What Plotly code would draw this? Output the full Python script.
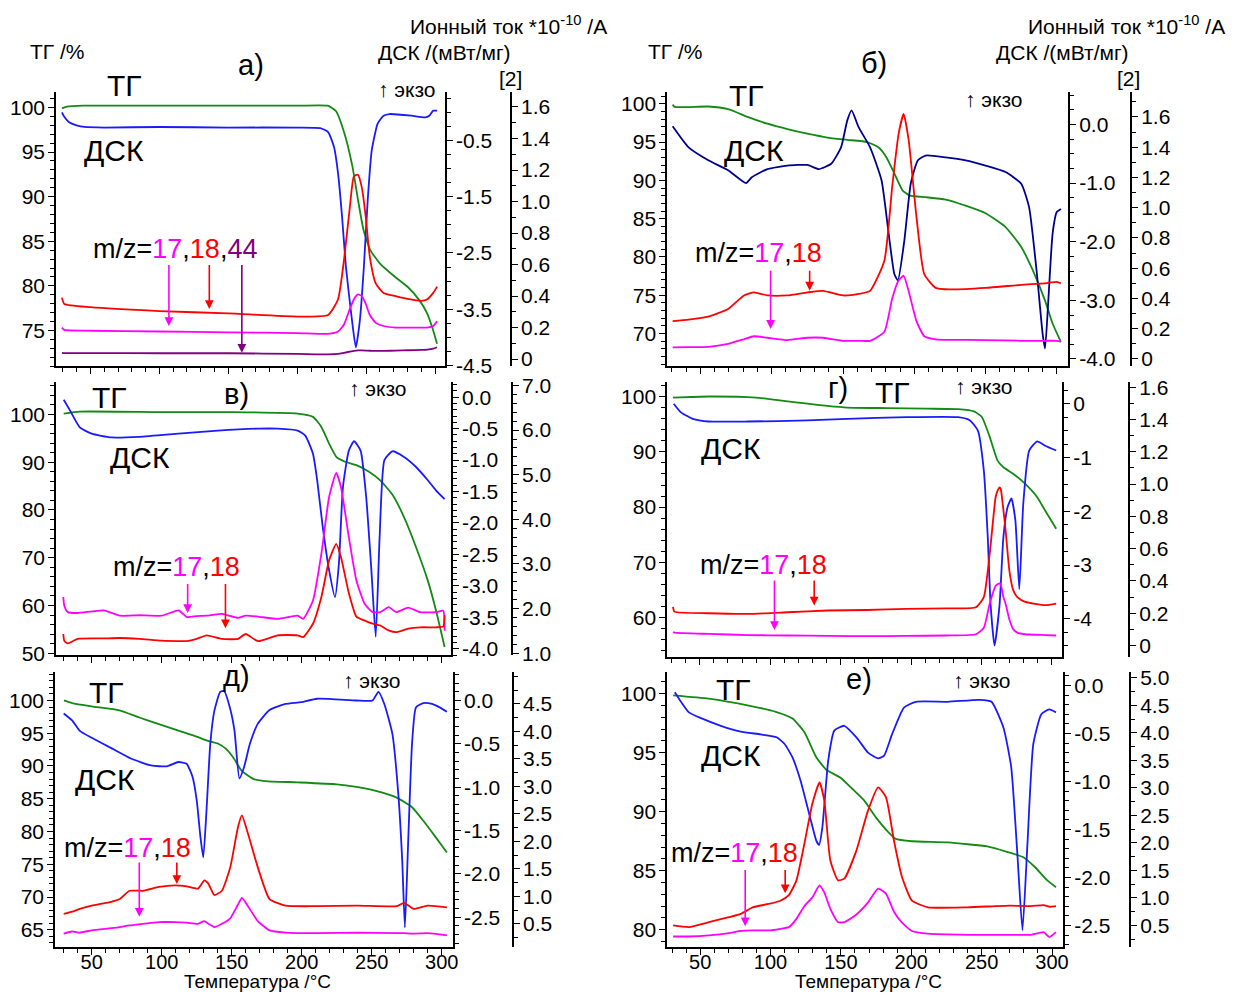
import plotly.graph_objects as go

W, H = 1233, 999
FONT = "Liberation Sans, Arial, sans-serif"
GREEN = "#138a13"
BLUE = "#1a1aff"
NAVY = "#000090"
RED = "#ff0000"
MAG = "#ff00ff"
PURP = "#800080"

# ---------------- panel а) ----------------
a_T_tg = [29.3, 33, 45, 100, 150, 200, 222, 228, 234, 240, 244, 248, 253, 260, 271, 280, 288.5, 294.3, 298, 301.4]
a_tg = [99.9, 100.1, 100.2, 100.2, 100.2, 100.2, 100.2, 99.6, 97.2, 93.4, 89.7, 86.3, 84.0, 82.5, 81.0, 79.9, 78.4, 76.9, 75.3, 73.5]
a_T_dsc = [29.3, 31, 34.2, 39.9, 45.7, 60, 100, 150, 200, 216.7, 222.4, 226.7, 229.6, 232.5, 235.3, 239.7, 242.5,
           245.4, 248.3, 251.1, 254, 258.3, 262.6, 267, 282.8, 292.8, 295.7, 298.6, 301.4]
a_dsc = [0.0, -0.08, -0.17, -0.23, -0.26, -0.27, -0.26, -0.27, -0.27, -0.28, -0.35, -0.62, -1.09, -1.86, -2.75, -3.7,
         -4.18, -3.7, -2.75, -1.56, -0.68, -0.2, -0.06, -0.03, -0.06, -0.09, -0.06, 0.03, 0.03]
a_T_ion = [29.3, 31, 50, 100, 150, 200, 222.4, 229.6, 233.9, 238.2, 241.1, 244, 246.8, 249.7, 252.6, 256.9, 262.6,
           271.3, 281.3, 290, 294.3, 298.6, 301.4]
a_18 = [0.39, 0.35, 0.33, 0.305, 0.29, 0.27, 0.28, 0.38, 0.63, 0.97, 1.16, 1.17, 1.09, 0.90, 0.65, 0.48, 0.42, 0.40,
        0.38, 0.37, 0.38, 0.42, 0.46]
a_17 = [0.20, 0.185, 0.18, 0.175, 0.17, 0.165, 0.16, 0.175, 0.22, 0.32, 0.38, 0.41, 0.40, 0.35, 0.28, 0.23, 0.21, 0.20,
        0.20, 0.20, 0.20, 0.21, 0.24]
a_44 = [0.04, 0.038, 0.038, 0.037, 0.037, 0.033, 0.03, 0.033, 0.04, 0.047, 0.052, 0.055, 0.055, 0.054, 0.053, 0.052,
        0.052, 0.054, 0.056, 0.058, 0.06, 0.066, 0.075]
a_arrow_T = [106.9, 136.2, 159.8]
a_arrow_tip = [75.5, 77.4, 72.5]
a_arrow_top = 82.5

# ---------------- panel б) ----------------
b_T_tg = [30.5, 32, 55.5, 69.4, 83, 97, 111, 125, 139, 153, 167, 175, 180.5, 186, 191.7, 197, 208, 222, 236, 250, 264,
          275, 283, 291.7, 297, 302.8]
b_tg = [99.9, 99.6, 99.65, 99.3, 98.3, 97.4, 96.7, 96.1, 95.6, 95.3, 95.0, 94.3, 93.0, 90.9, 88.7, 88.0, 87.8, 87.5,
        86.7, 85.7, 83.9, 81.3, 78.3, 74.3, 71.3, 68.9]
b_T_dsc = [30.5, 41.7, 55.5, 69.4, 82, 86, 97, 111, 125, 133, 141.7, 148.6, 153, 156, 161, 169, 177, 182, 186, 188.5,
           193, 197.5, 202.5, 208, 222, 236, 250, 264, 275, 280.5, 286, 290, 291.7, 294, 297, 300, 302.8]
b_dsc = [-0.03, -0.39, -0.61, -0.78, -1.0, -0.9, -0.76, -0.70, -0.69, -0.76, -0.67, -0.39, 0.07, 0.24, -0.05, -0.39,
         -0.95, -1.86, -2.55, -2.66, -1.98, -1.01, -0.61, -0.53, -0.56, -0.61, -0.70, -0.81, -1.01, -1.41, -2.55, -3.57,
         -3.82, -3.0, -1.86, -1.49, -1.44]
b_T_ion = [30.5, 41.7, 55.5, 69.4, 80.5, 87.5, 97, 111, 125, 136, 150, 161, 169, 179, 184.5, 189, 192.5, 196, 201.5,
           207, 215, 225, 250, 275, 291.7, 300, 302.8]
b_18 = [0.25, 0.26, 0.28, 0.33, 0.42, 0.44, 0.42, 0.42, 0.44, 0.45, 0.42, 0.43, 0.45, 0.65, 1.14, 1.49, 1.62, 1.45,
        0.94, 0.56, 0.47, 0.46, 0.47, 0.49, 0.50, 0.51, 0.50]
b_17 = [0.077, 0.078, 0.08, 0.10, 0.13, 0.15, 0.14, 0.125, 0.14, 0.14, 0.12, 0.12, 0.12, 0.18, 0.40, 0.52, 0.55, 0.45,
        0.25, 0.15, 0.13, 0.126, 0.125, 0.12, 0.12, 0.12, 0.115]
b_arrow_T = [99.2, 126.6]
b_arrow_tip = [70.6, 75.6]
b_arrow_top = 78.4

# ---------------- panel в) ----------------
c_T_tg = [30, 41.5, 100, 150, 197, 208, 214, 219.5, 225, 231, 239, 248, 256, 265, 273, 281.6, 290, 295.8, 302]
c_tg = [100.2, 100.6, 100.5, 100.5, 100.2, 99.5, 97.4, 93.9, 91.0, 90.1, 89.4, 88.0, 86.2, 83.1, 78.5, 72.2, 65.2,
        59.0, 51.3]
c_T_dsc = [30, 34.5, 41.5, 50, 64, 84, 112, 140, 168.6, 182.8, 197, 202.5, 208, 211, 215, 219.5, 223.7, 226.5, 229.4,
           233.6, 237.3, 242, 246, 249.7, 252.8, 255.6, 259, 264.7, 273, 281.6, 290, 295.8, 302]
c_dsc = [-0.04, -0.21, -0.48, -0.58, -0.64, -0.63, -0.58, -0.53, -0.50, -0.50, -0.53, -0.61, -0.9, -1.32, -2.07,
         -2.75, -3.18, -2.65, -1.43, -0.85, -0.70, -0.85, -1.59, -2.75, -3.81, -2.22, -1.0, -0.86, -0.95, -1.11, -1.32,
         -1.48, -1.62]
c_T_ion = [29.7, 30.5, 32.9, 40, 58.5, 70, 84, 100, 112, 117.8, 125, 132, 143, 154.5, 160, 168.6, 182.8, 197, 201,
           208, 214, 219.5, 224.6, 228, 233.6, 239, 245, 250.6, 256, 262, 267.5, 276, 284.5, 295.8, 301, 302]
c_17 = [2.26, 2.05, 1.92, 1.90, 1.96, 1.84, 1.85, 1.84, 1.96, 1.81, 1.83, 1.84, 1.88, 1.79, 1.84, 1.82, 1.77, 1.84,
        1.77, 2.18, 3.23, 4.5, 5.04, 4.72, 3.6, 2.63, 2.1, 1.92, 1.92, 2.03, 1.92, 2.02, 1.92, 1.92, 1.95, 1.5]
c_18 = [1.43, 1.27, 1.22, 1.32, 1.33, 1.34, 1.32, 1.28, 1.27, 1.27, 1.32, 1.40, 1.32, 1.32, 1.43, 1.27, 1.40, 1.40,
        1.36, 1.66, 2.26, 3.08, 3.45, 3.15, 2.35, 1.82, 1.73, 1.66, 1.62, 1.51, 1.47, 1.55, 1.58, 1.58, 1.60, 1.85]
c_arrow_T = [118.5, 145.5]
c_arrow_tip = [58.4, 55.2]
c_arrow_top = 64.8

# ---------------- panel г) ----------------
d_T_tg = [31, 56.3, 90, 106.8, 126.5, 140.6, 154.6, 182.8, 210.9, 233.4, 244.6, 250.2, 255.8, 261.4, 265.5, 272.6, 281,
          289.5, 295.1, 303]
d_tg = [99.8, 100.0, 99.8, 99.3, 98.7, 98.3, 98.0, 97.9, 97.8, 97.7, 97.3, 96.3, 92.7, 88.4, 87.2, 86.0, 84.2, 81.8,
        79.4, 76.1]
d_T_dsc = [31.5, 36.6, 45, 56.3, 84.4, 126.5, 154.6, 196.8, 233.4, 241.8, 247.4, 251.6, 254.4, 256.4, 259.2, 262.8,
           265.5, 268.4, 271.2, 274, 276.8, 279.6, 283.8, 289.5, 295.1, 303]
d_dsc = [0.0, -0.16, -0.28, -0.33, -0.33, -0.31, -0.28, -0.25, -0.25, -0.31, -0.5, -1.24, -2.48, -3.73, -4.5, -3.73,
         -2.48, -1.93, -1.76, -2.17, -3.45, -1.86, -0.87, -0.70, -0.78, -0.87]
d_T_ion = [31, 32, 56.3, 84.4, 112.5, 140.6, 168.7, 196.8, 225, 246, 251.6, 255.8, 260, 261.4, 262.8, 263.6, 265.5,
           267, 269.8, 272.6, 275.4, 281, 295.1, 303]
d_18 = [0.24, 0.21, 0.20, 0.196, 0.206, 0.217, 0.22, 0.227, 0.23, 0.237, 0.30, 0.57, 0.92, 0.96, 0.98, 0.97, 0.84,
        0.72, 0.46, 0.34, 0.30, 0.27, 0.25, 0.26]
d_17 = [0.083, 0.08, 0.072, 0.065, 0.062, 0.06, 0.058, 0.06, 0.062, 0.07, 0.11, 0.26, 0.37, 0.38, 0.385, 0.38, 0.30,
        0.26, 0.16, 0.10, 0.08, 0.07, 0.065, 0.062]
d_arrow_T = [103.0, 131.2]
d_arrow_tip = [57.8, 62.2]
d_arrow_top = 67.0

# ---------------- panel д) ----------------
e_T_tg = [30.2, 36, 50, 69.8, 84, 98, 112, 126, 132, 140.4, 146, 151.7, 157, 165.8, 174, 197, 225, 239, 253, 267.5,
          278.8, 287, 295.8, 303.7]
e_tg = [100, 99.6, 99.1, 98.5, 97.4, 96.4, 95.4, 94.4, 93.9, 93.4, 92.6, 91.1, 89.3, 88.0, 87.7, 87.5, 87.2, 86.8, 86.2,
        85.2, 83.7, 81.6, 79.1, 76.8]
e_T_dsc = [30, 36, 41.5, 50, 64, 78, 92.4, 103.7, 112, 117.8, 122, 125, 127.7, 129.7, 132, 134.7, 137.6, 141.8, 144.6,
           149, 152, 155.5, 158.8, 163, 168.6, 177, 188.4, 199.7, 211, 239, 250.6, 254.8, 259, 264.7, 269, 271.8, 273.7,
           276, 278.8, 281.6, 287, 293, 298.6, 303.7]
e_dsc = [-0.15, -0.23, -0.35, -0.43, -0.55, -0.67, -0.75, -0.76, -0.71, -0.73, -0.88, -1.15, -1.58, -1.81, -1.27,
         -0.5, -0.12, 0.1, 0.11, -0.10, -0.35, -0.9, -0.77, -0.5, -0.27, -0.11, -0.04, -0.02, 0.02, 0.0, 0.0, 0.1,
         -0.04, -0.38, -1.08, -1.85, -2.62, -1.65, -0.5, -0.08, -0.03, -0.04, -0.08, -0.13]
e_T_ion = [30, 36, 41.5, 50, 64, 70, 77, 86.7, 98, 109.3, 117.8, 126, 130.5, 133.3, 137.6, 143, 149, 154.5, 157.3,
           161.6, 168.6, 177, 188.4, 211, 240, 268, 273, 280, 290, 303.7]
e_18 = [0.68, 0.72, 0.77, 0.83, 0.90, 0.95, 1.10, 1.10, 1.17, 1.20, 1.18, 1.14, 1.29, 1.23, 1.02, 1.10, 1.53, 2.26,
        2.47, 2.14, 1.53, 0.95, 0.83, 0.82, 0.83, 0.82, 0.88, 0.77, 0.83, 0.80]
e_17 = [0.32, 0.36, 0.34, 0.38, 0.42, 0.44, 0.47, 0.50, 0.53, 0.53, 0.52, 0.50, 0.55, 0.50, 0.44, 0.50, 0.60, 0.85,
        0.97, 0.82, 0.55, 0.38, 0.34, 0.33, 0.34, 0.33, 0.33, 0.32, 0.33, 0.29]
e_arrow_T = [84.0, 110.8]
e_arrow_tip = [67.0, 72.0]
e_arrow_top = 75.5

# ---------------- panel е) ----------------
f_T_tg = [30.8, 56, 84.5, 104.3, 115.6, 124, 132.6, 139.6, 149.5, 158, 166.5, 175, 183.5, 189, 200.5, 226, 254, 268,
          279.6, 288, 296.5, 302.8]
f_tg = [99.86, 99.58, 99.0, 98.45, 97.9, 96.75, 94.6, 93.56, 92.9, 91.95, 90.96, 89.5, 88.3, 87.7, 87.5, 87.4, 87.06,
        86.6, 86.15, 85.3, 84.2, 83.6]
f_T_dsc = [32, 36.4, 42, 50.6, 64.7, 78.8, 93, 104.3, 110, 115.6, 121.3, 127, 132.6, 134.5, 136.8, 141, 145.3, 152.4,
           161, 169.3, 176.4, 180.7, 186.3, 194.8, 203.3, 226, 248.5, 257, 265.5, 271, 275.4, 279, 282.5, 286.7, 292.4,
           298, 302.8]
f_dsc = [-0.07, -0.17, -0.28, -0.34, -0.42, -0.48, -0.51, -0.54, -0.61, -0.75, -0.99, -1.31, -1.62, -1.66, -1.48,
         -0.78, -0.47, -0.42, -0.54, -0.70, -0.76, -0.73, -0.51, -0.23, -0.17, -0.17, -0.15, -0.17, -0.44, -0.85, -1.76,
         -2.55, -1.66, -0.61, -0.30, -0.25, -0.28]
f_T_ion = [30.8, 42, 56.2, 70.4, 78.8, 87.3, 98.6, 107, 113, 118.4, 124, 129.7, 134.8, 138.2, 142.5, 148, 152.4, 161,
           169.3, 176.4, 182, 187.7, 193.4, 200.5, 211.8, 240, 270, 285, 294, 298, 302.8]
f_18 = [0.50, 0.47, 0.56, 0.65, 0.71, 0.83, 0.89, 0.95, 1.05, 1.32, 1.98, 2.71, 3.10, 2.77, 1.68, 1.32, 1.35, 1.86,
        2.59, 3.01, 2.83, 2.04, 1.38, 0.95, 0.83, 0.83, 0.86, 0.85, 0.87, 0.84, 0.85]
f_17 = [0.30, 0.30, 0.32, 0.36, 0.40, 0.41, 0.41, 0.44, 0.47, 0.62, 0.85, 1.01, 1.23, 1.10, 0.80, 0.56, 0.56, 0.70,
        0.92, 1.17, 1.08, 0.75, 0.55, 0.40, 0.35, 0.33, 0.33, 0.33, 0.38, 0.29, 0.38]
f_arrow_T = [82.0, 110.4]
f_arrow_tip = [80.3, 83.1]
f_arrow_top = 85.2

# ---------------- tick label lists ----------------
a_tg_ticks = [75, 80, 85, 90, 95, 100]
a_dsc_ticks = [-4.5, -3.5, -2.5, -1.5, -0.5]
a_ion_ticks = [0, 0.2, 0.4, 0.6, 0.8, 1.0, 1.2, 1.4, 1.6]
b_tg_ticks = [70, 75, 80, 85, 90, 95, 100]
b_dsc_ticks = [-4.0, -3.0, -2.0, -1.0, 0.0]
b_ion_ticks = [0, 0.2, 0.4, 0.6, 0.8, 1.0, 1.2, 1.4, 1.6]
c_tg_ticks = [50, 60, 70, 80, 90, 100]
c_dsc_ticks = [-4.0, -3.5, -3.0, -2.5, -2.0, -1.5, -1.0, -0.5, 0.0]
c_ion_ticks = [1.0, 2.0, 3.0, 4.0, 5.0, 6.0, 7.0]
d_tg_ticks = [60, 70, 80, 90, 100]
d_dsc_ticks = [-4, -3, -2, -1, 0]
d_ion_ticks = [0, 0.2, 0.4, 0.6, 0.8, 1.0, 1.2, 1.4, 1.6]
e_tg_ticks = [65, 70, 75, 80, 85, 90, 95, 100]
e_dsc_ticks = [-2.5, -2.0, -1.5, -1.0, -0.5, 0.0]
e_ion_ticks = [0.5, 1.0, 1.5, 2.0, 2.5, 3.0, 3.5, 4.0, 4.5]
f_tg_ticks = [80, 85, 90, 95, 100]
f_dsc_ticks = [-2.5, -2.0, -1.5, -1.0, -0.5, 0.0]
f_ion_ticks = [0.5, 1.0, 1.5, 2.0, 2.5, 3.0, 3.5, 4.0, 4.5, 5.0]
x_ticks = [50, 100, 150, 200, 250, 300]


def f1(v):
    return f"{v:.1f}"


def fion(v):
    return "0" if v == 0 else f"{v:.1f}"


def fint(v):
    return f"{int(v)}"


MZ2 = f"m/z=<span style='color:{MAG}'>17</span>,<span style='color:{RED}'>18</span>"
MZ3 = MZ2 + f",<span style='color:{PURP}'>44</span>"

panels = [
    dict(box=(56, 92, 445, 366), xr=(25.0, 307.2), ionx=511, bottom=False,
         tg=(a_T_tg, a_tg), dsc=(a_T_dsc, a_dsc), dcol=BLUE, ionT=a_T_ion,
         ions=[(a_44, PURP), (a_17, MAG), (a_18, RED)],
         tgr=(70.96, 101.68), dr=(-4.518, 0.353), ir=(-0.047, 1.692),
         tgt=(a_tg_ticks, str, 1), dt=(a_dsc_ticks, f1, 0.25, -0.5), it=(a_ion_ticks, fion, 0.1, 0),
         arrows=(a_arrow_T, a_arrow_tip, a_arrow_top, [MAG, RED, PURP]),
         label=("а)", 251, 65), TG=(124, 85), DSK=(114, 150), ekzo=(407, 89), mz=(MZ3, 175, 249)),
    dict(box=(667, 92, 1068, 366), xr=(26.6, 307.9), ionx=1131, bottom=False,
         tg=(b_T_tg, b_tg), dsc=(b_T_dsc, b_dsc), dcol=NAVY, ionT=b_T_ion,
         ions=[(b_17, MAG), (b_18, RED)],
         tgr=(65.69, 101.48), dr=(-4.128, 0.546), ir=(-0.05, 1.762),
         tgt=(b_tg_ticks, str, 1), dt=(b_dsc_ticks, f1, 0.25, 0), it=(b_ion_ticks, fion, 0.1, 0),
         arrows=(b_arrow_T, b_arrow_tip, b_arrow_top, [MAG, RED]),
         label=("б)", 874, 63), TG=(746, 95), DSK=(754, 150), ekzo=(994, 99), mz=(MZ2, 758, 253)),
    dict(box=(56, 382, 451, 655), xr=(24.5, 306.6), ionx=512, bottom=False,
         tg=(c_T_tg, c_tg), dsc=(c_T_dsc, c_dsc), dcol=BLUE, ionT=c_T_ion,
         ions=[(c_17, MAG), (c_18, RED)],
         tgr=(49.52, 106.7), dr=(-4.107, 0.234), ir=(0.948, 7.067),
         tgt=(c_tg_ticks, str, 2), dt=(c_dsc_ticks, f1, 0.1, 0), it=(c_ion_ticks, f1, 0.2, 1),
         arrows=(c_arrow_T, c_arrow_tip, c_arrow_top, [MAG, RED]),
         label=("в)", 236, 394), TG=(109, 397), DSK=(140, 457), ekzo=(378, 388), mz=(MZ2, 176, 567)),
    dict(box=(667, 382, 1062, 657), xr=(26.8, 307.2), ionx=1129, bottom=False,
         tg=(d_T_tg, d_tg), dsc=(d_T_dsc, d_dsc), dcol=BLUE, ionT=d_T_ion,
         ions=[(d_17, MAG), (d_18, RED)],
         tgr=(52.82, 102.53), dr=(-4.72, 0.396), ir=(-0.074, 1.629),
         tgt=(d_tg_ticks, str, 2), dt=(d_dsc_ticks, fint, 0.25, 0), it=(d_ion_ticks, fion, 0.1, 0),
         arrows=(d_arrow_T, d_arrow_tip, d_arrow_top, [MAG, RED]),
         label=("г)", 838, 388), TG=(892, 392), DSK=(731, 448), ekzo=(984, 386), mz=(MZ2, 763, 565)),
    dict(box=(55, 672, 453, 947), xr=(23.8, 308.1), ionx=513, bottom=True,
         tg=(e_T_tg, e_tg), dsc=(e_T_dsc, e_dsc), dcol=BLUE, ionT=e_T_ion,
         ions=[(e_17, MAG), (e_18, RED)],
         tgr=(62.3, 104.27), dr=(-2.85, 0.323), ir=(0.069, 5.069),
         tgt=(e_tg_ticks, str, 1), dt=(e_dsc_ticks, f1, 0.1, 0), it=(e_ion_ticks, f1, 0.25, 0.5),
         arrows=(e_arrow_T, e_arrow_tip, e_arrow_top, [MAG, RED]),
         label=("д)", 236, 676), TG=(106, 692), DSK=(105, 779), ekzo=(372, 680), mz=(MZ2, 127, 848)),
    dict(box=(667, 672, 1063, 947), xr=(26.5, 307.9), ionx=1130, bottom=True,
         tg=(f_T_tg, f_tg), dsc=(f_T_dsc, f_dsc), dcol=BLUE, ionT=f_T_ion,
         ions=[(f_17, MAG), (f_18, RED)],
         tgr=(78.5, 101.8), dr=(-2.729, 0.135), ir=(0.1, 5.096),
         tgt=(f_tg_ticks, str, 1), dt=(f_dsc_ticks, f1, 0.1, 0), it=(f_ion_ticks, f1, 0.25, 0.5),
         arrows=(f_arrow_T, f_arrow_tip, f_arrow_top, [MAG, RED]),
         label=("е)", 859, 679), TG=(733, 689), DSK=(731, 755), ekzo=(982, 680), mz=(MZ2, 734, 853)),
]

# the page is photographed with a slight offset/scale; map target pixel positions to paper coordinates
SX, SY, OY = 0.995, 0.981, 8.5


def PX(x):
    return (x / SX) / W


def PY(y):
    return 1 - ((y - OY) / SY) / H


fig = go.Figure()
layout = dict(width=W, height=H, margin=dict(l=0, r=0, t=0, b=0), autosize=False,
              paper_bgcolor="white", plot_bgcolor="rgba(0,0,0,0)", showlegend=False,
              font=dict(family=FONT, size=21, color="black"))
annotations = []
AX = dict(showline=True, linecolor="black", linewidth=1.6, ticks="outside", ticklen=6, tickwidth=1.4,
          tickcolor="black", showgrid=False, zeroline=False, tickfont=dict(family=FONT, size=21, color="black"))
MINOR = dict(ticks="outside", ticklen=4, tickwidth=1.2, tickcolor="black", tickmode="linear")

LW = 1.8
for i, p in enumerate(panels):
    n = i + 1
    xs = "" if n == 1 else str(n)
    yt, yd, yi = 3 * i + 1, 3 * i + 2, 3 * i + 3
    yts = "" if yt == 1 else str(yt)
    xname, ytn, ydn, yin = "x" + xs, "y" + yts, "y" + str(yd), "y" + str(yi)
    x0, y0, x1, y1 = p["box"]
    layout["xaxis" + xs] = dict(AX, domain=[PX(x0), PX(x1)], range=list(p["xr"]), anchor=ytn,
                                tickmode="array", tickvals=x_ticks, ticktext=[str(v) for v in x_ticks],
                                showticklabels=p["bottom"], ticklabelstandoff=-10,
                                tickfont=dict(family=FONT, size=20, color="black"),
                                minor=dict(MINOR, dtick=10, tick0=0))
    tv, tf, tmin = p["tgt"]
    layout["yaxis" + yts] = dict(AX, domain=[PY(y1), PY(y0)], range=list(p["tgr"]), anchor=xname, side="left",
                                 tickmode="array", tickvals=tv, ticktext=[tf(v) for v in tv],
                                 ticklabelstandoff=-1, minor=dict(MINOR, dtick=tmin, tick0=0))
    dv, dfmt, dmin, d0 = p["dt"]
    layout["yaxis" + str(yd)] = dict(AX, range=list(p["dr"]), anchor=xname, overlaying=ytn, side="right",
                                     tickmode="array", tickvals=dv, ticktext=[dfmt(v) for v in dv],
                                     ticklabelstandoff=-1, minor=dict(MINOR, dtick=dmin, tick0=d0))
    iv, ifmt, imin, i0 = p["it"]
    layout["yaxis" + str(yi)] = dict(AX, range=list(p["ir"]), anchor="free", position=PX(p["ionx"]),
                                     overlaying=ytn, side="right",
                                     tickmode="array", tickvals=iv, ticktext=[ifmt(v) for v in iv],
                                     ticklabelstandoff=-1, minor=dict(MINOR, dtick=imin, tick0=i0))

    fig.add_trace(go.Scatter(x=p["tg"][0], y=p["tg"][1], mode="lines", xaxis=xname, yaxis=ytn,
                             line=dict(color=GREEN, width=LW, shape="spline", smoothing=0.5)))
    fig.add_trace(go.Scatter(x=p["dsc"][0], y=p["dsc"][1], mode="lines", xaxis=xname, yaxis=ydn,
                             line=dict(color=p["dcol"], width=LW, shape="spline", smoothing=0.5)))
    for vals, col in p["ions"]:
        fig.add_trace(go.Scatter(x=p["ionT"], y=vals, mode="lines", xaxis=xname, yaxis=yin,
                                 line=dict(color=col, width=LW, shape="spline", smoothing=0.5)))

    aT, aTip, aTop, aCol = p["arrows"]
    for T, tip, col in zip(aT, aTip, aCol):
        annotations.append(dict(x=T, y=tip, ax=T, ay=aTop, xref=xname, yref=ytn, axref=xname, ayref=ytn,
                                text="", showarrow=True, arrowhead=2, arrowsize=1.1, arrowwidth=1.6,
                                arrowcolor=col))

    def txt(s, x, y, size, xanchor="center"):
        annotations.append(dict(text=s, x=PX(x), y=PY(y), xref="paper", yref="paper", showarrow=False,
                                xanchor=xanchor, yanchor="middle", font=dict(family=FONT, size=size, color="black")))

    lab, lx, ly = p["label"]
    txt(lab, lx, ly, 29)
    txt("ТГ", p["TG"][0], p["TG"][1], 30)
    txt("ДСК", p["DSK"][0], p["DSK"][1], 30)
    txt("↑ экзо", p["ekzo"][0], p["ekzo"][1], 21)
    txt(p["mz"][0], p["mz"][1], p["mz"][2], 27)
    if i < 2:
        base = 0 if i == 0 else 618
        txt("ТГ /%", base + 57, 51, 21)
        txt("Ионный ток *10<sup>-10</sup> /А", base + 609, 25, 21, xanchor="right")
        txt("ДСК /(мВт/мг)", base + 444, 52, 21)
        txt("[2]", base + 510, 78, 21)
    if p["bottom"]:
        txt("Температура /°C", (x0 + x1) / 2 + 3, 981, 19)

layout["annotations"] = annotations
fig.update_layout(**layout)
fig.write_html("out.html")
